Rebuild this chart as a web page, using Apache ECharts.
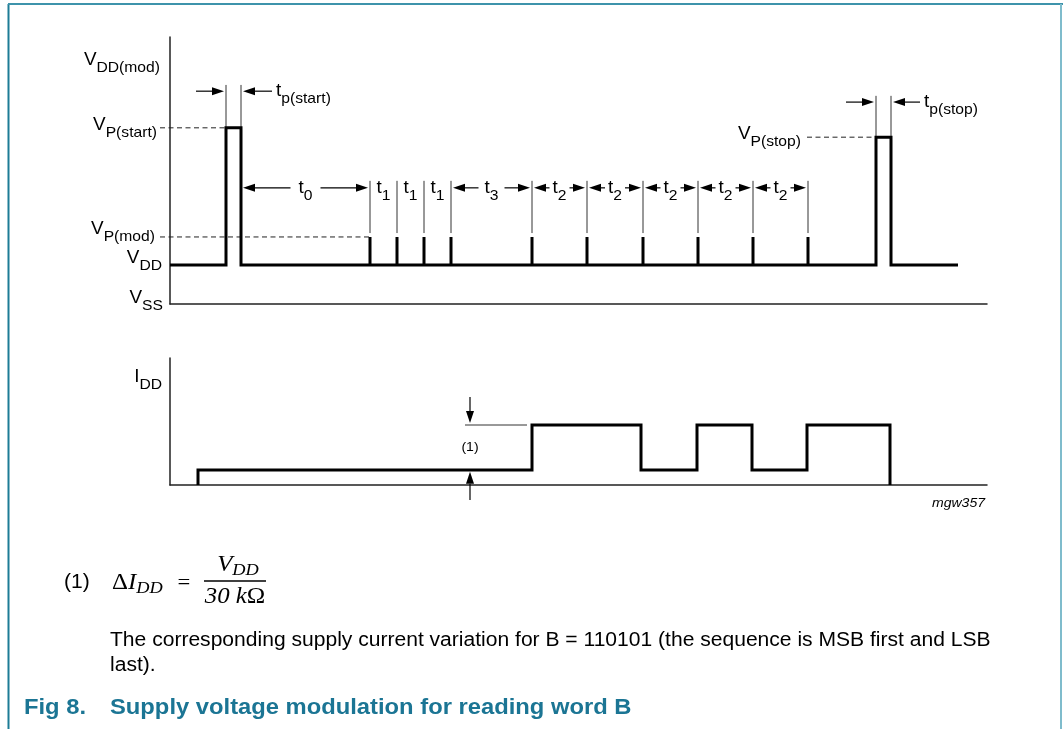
<!DOCTYPE html>
<html><head><meta charset="utf-8">
<script src="https://cdn.jsdelivr.net/npm/echarts@6/dist/echarts.min.js"></script>
<style>html,body{margin:0;padding:0;background:#fff}#c{width:1063px;height:729px}</style>
</head><body><div id="c"></div>
<script>
// ---------------- data (time: arbitrary units from the vertical axis) ----------------
const levelNames  = ['VSS', 'VDD', 'VP(mod)', 'VP(stop)', 'VP(start)'];
const levelValues = [0, 1, 1.72, 4.28, 4.52];
const startPulse  = [56, 71];                 // rise, fall
const modPulses   = [200, 227, 254, 281, 362, 417, 473, 528, 583, 638];
const stopPulse   = [706, 721];               // rise, fall
const traceEnd    = 788;
const intervalLabels = ['t0', 't1', 't1', 't1', 't3', 't2', 't2', 't2', 't2', 't2'];
const intervalArrows = [1, 0, 0, 0, 1, 1, 1, 1, 1, 1];
const iddEdgeTimes = [28, 362, 471, 527, 582, 637, 720];
const iddLevels    = [1, 4, 1, 4, 1, 4, 0];
const iddDelta     = [1, 4];                  // low / high level of the ΔIDD annotation

// ---------------- styling helpers ----------------
const SX = 1.08;
const FONT = '"Liberation Sans", Arial, Helvetica, sans-serif';
const SERIF = '"Liberation Serif", "Times New Roman", serif';
const lv = n => levelValues[levelNames.indexOf(n)];
const VSS = lv('VSS'), VDD = lv('VDD'), VPM = lv('VP(mod)'), VPSTOP = lv('VP(stop)'), VPSTART = lv('VP(start)');

// top trace
const topTrace = [[0, VDD], [startPulse[0], VDD], [startPulse[0], VPSTART], [startPulse[1], VPSTART], [startPulse[1], VDD]];
modPulses.forEach(p => { topTrace.push([p, VDD], [p, VPM], [p, VDD]); });
topTrace.push([stopPulse[0], VDD], [stopPulse[0], VPSTOP], [stopPulse[1], VPSTOP], [stopPulse[1], VDD], [traceEnd, VDD]);

// bottom trace
const botTrace = [];
let prev = 0;
iddEdgeTimes.forEach((t, i) => { botTrace.push([t, prev], [t, iddLevels[i]]); prev = iddLevels[i]; });

// annotation items
const topItems = [];
const botItems = [];
// dashed level lines
topItems.push({k: 'dash', a: [-10, VPSTART], b: [startPulse[0], VPSTART]});
topItems.push({k: 'dash', a: [-10, VPM], b: [modPulses[0], VPM]});
topItems.push({k: 'dash', a: [modPulses[modPulses.length - 1] - 1, VPSTOP], b: [stopPulse[0], VPSTOP]});
// extension lines
const yStartDim = 5.46, yStopDim = 5.18, yIntDim = 2.98;
startPulse.forEach(x => topItems.push({k: 'seg', a: [x, VPSTART], b: [x, 5.62]}));
stopPulse.forEach(x => topItems.push({k: 'seg', a: [x, VPSTOP], b: [x, 5.34]}));
modPulses.forEach(x => topItems.push({k: 'seg', a: [x, 1.82], b: [x, 3.16]}));
// pulse width arrows
topItems.push({k: 'arrow', a: [startPulse[0] - 30, yStartDim], b: [startPulse[0] - 2, yStartDim]});
topItems.push({k: 'arrow', a: [startPulse[1] + 31, yStartDim], b: [startPulse[1] + 2, yStartDim]});
topItems.push({k: 'arrow', a: [stopPulse[0] - 30, yStopDim], b: [stopPulse[0] - 2, yStopDim]});
topItems.push({k: 'arrow', a: [stopPulse[1] + 29, yStopDim], b: [stopPulse[1] + 2, yStopDim]});
topItems.push({k: 'sub', p: [startPulse[1] + 35, yStartDim], t: 'tp(start)', al: 'left'});
topItems.push({k: 'sub', p: [stopPulse[1] + 33, yStopDim], t: 'tp(stop)', al: 'left'});
// interval dimensions
const bounds = [startPulse[1]].concat(modPulses);
const halfGap = {t0: 15, t3: 13, t2: 10, t1: 0};
intervalLabels.forEach((lab, i) => {
  const a = bounds[i], b = bounds[i + 1], c = (a + b) / 2;
  if (intervalArrows[i]) {
    topItems.push({k: 'arrow', a: [c - halfGap[lab], yIntDim], b: [a + 2, yIntDim]});
    topItems.push({k: 'arrow', a: [c + halfGap[lab], yIntDim], b: [b - 2, yIntDim]});
  }
  topItems.push({k: 'sub', p: [c, yIntDim], t: lab, al: 'center'});
});
// level labels
topItems.push({k: 'sub', p: [-10, 6.26], t: 'VDD(mod)', al: 'right'});
topItems.push({k: 'sub', p: [-13, VPSTART + 0.07], t: 'VP(start)', al: 'right'});
topItems.push({k: 'sub', p: [-15, VPM + 0.2], t: 'VP(mod)', al: 'right'});
topItems.push({k: 'sub', p: [-8, VDD + 0.18], t: 'VDD', al: 'right'});
topItems.push({k: 'sub', p: [-7, VSS + 0.15], t: 'VSS', al: 'right'});
topItems.push({k: 'sub', p: [modPulses[modPulses.length - 1] - 7, VPSTOP + 0.08], t: 'VP(stop)', al: 'right'});

// bottom annotation
const dx = 300;
botItems.push({k: 'seg', a: [dx - 5, iddDelta[1]], b: [iddEdgeTimes[1] - 5, iddDelta[1]]});
botItems.push({k: 'arrow', a: [dx, 5.87], b: [dx, iddDelta[1] + 0.13]});
botItems.push({k: 'arrow', a: [dx, -1.0], b: [dx, iddDelta[0] - 0.12]});
botItems.push({k: 'plain', p: [dx, 2.53], t: '(1)', al: 'center', font: '13px ' + FONT});
botItems.push({k: 'sub', p: [-8, 7.2], t: 'IDD', al: 'right'});
botItems.push({k: 'plain', p: [815, -1.2], t: 'mgw357', al: 'right', font: 'italic 13px ' + FONT});

const subRich = {
  m: {fontSize: 17.5, fontFamily: FONT},
  s: {fontSize: 14.5, fontFamily: FONT, padding: [16, 0, 0, 0]}
};

function makeRender(items) {
  return function (params, api) {
    const it = items[params.dataIndex];
    if (it.k === 'seg' || it.k === 'dash') {
      const p1 = api.coord(it.a), p2 = api.coord(it.b);
      return {type: 'line', shape: {x1: p1[0], y1: p1[1], x2: p2[0], y2: p2[1]},
        style: {stroke: it.k === 'dash' ? '#222' : '#333', lineWidth: 1, lineDash: it.k === 'dash' ? [5, 3.5] : null}};
    }
    if (it.k === 'arrow') {
      const p1 = api.coord(it.a), p2 = api.coord(it.b);
      let ux = p2[0] - p1[0], uy = p2[1] - p1[1];
      const len = Math.hypot(ux, uy); ux /= len; uy /= len;
      const L = 12, W = 4;
      const bx = p2[0] - ux * L, by = p2[1] - uy * L;
      return {type: 'group', children: [
        {type: 'line', shape: {x1: p1[0], y1: p1[1], x2: bx, y2: by}, style: {stroke: '#000', lineWidth: 1.2}},
        {type: 'polygon', shape: {points: [[p2[0], p2[1]], [bx - uy * W, by + ux * W], [bx + uy * W, by - ux * W]]}, style: {fill: '#000'}}
      ]};
    }
    const p = api.coord(it.p);
    if (it.k === 'sub') {
      return {type: 'text', x: p[0], y: p[1], scaleX: SX,
        style: {text: '{m|' + it.t[0] + '}{s|' + it.t.slice(1) + '}', rich: subRich, fill: '#000',
          align: it.al, textAlign: it.al, verticalAlign: 'middle', textVerticalAlign: 'middle'}};
    }
    return {type: 'text', x: p[0], y: p[1], scaleX: SX,
      style: {text: it.t, font: it.font, fill: '#000', align: it.al, textAlign: it.al,
        verticalAlign: 'middle', textVerticalAlign: 'middle'}};
  };
}
function itemData(items) {
  return items.map(it => it.p ? it.p : it.a);
}

const axisStyle = {show: true, onZero: false, lineStyle: {color: '#222', width: 1.5}};
function ax(type, grid, min, max) {
  return {type: 'value', gridIndex: grid, min: min, max: max, axisLine: axisStyle,
    axisTick: {show: false}, axisLabel: {show: false}, splitLine: {show: false}};
}

const chart = echarts.init(document.getElementById('c'), null, {renderer: 'canvas'});
chart.setOption({
  animation: false,
  backgroundColor: '#fff',
  grid: [
    {left: 170, top: 37, width: 817, height: 267},
    {left: 170, top: 358, width: 817, height: 127}
  ],
  xAxis: [ax('x', 0, 0, 817), ax('x', 1, 0, 817)],
  yAxis: [ax('y', 0, 0, 6.85), ax('y', 1, 0, 127 / 15)],
  series: [
    {type: 'line', xAxisIndex: 0, yAxisIndex: 0, data: topTrace, showSymbol: false, symbol: 'none', clip: false,
      lineStyle: {color: '#000', width: 3, join: 'miter', cap: 'butt'}, silent: true},
    {type: 'line', xAxisIndex: 1, yAxisIndex: 1, data: botTrace, showSymbol: false, symbol: 'none', clip: false,
      lineStyle: {color: '#000', width: 3, join: 'miter', cap: 'butt'}, silent: true},
    {type: 'custom', xAxisIndex: 0, yAxisIndex: 0, data: itemData(topItems), renderItem: makeRender(topItems), silent: true, clip: false},
    {type: 'custom', xAxisIndex: 1, yAxisIndex: 1, data: itemData(botItems), renderItem: makeRender(botItems), silent: true, clip: false}
  ],
  graphic: {elements: [
    {type: 'line', shape: {x1: 8.5, y1: 4, x2: 8.5, y2: 729}, style: {stroke: '#1d7c96', lineWidth: 2}},
    {type: 'line', shape: {x1: 8, y1: 4, x2: 1063, y2: 4}, style: {stroke: '#3d93ab', lineWidth: 2}},
    {type: 'line', shape: {x1: 1061, y1: 4, x2: 1061, y2: 729}, style: {stroke: '#7fbccc', lineWidth: 2}},
    {type: 'text', x: 64, y: 583, scaleX: SX, style: {text: '(1)', font: '19.5px ' + FONT, fill: '#000', verticalAlign: 'middle', textVerticalAlign: 'middle'}},
    {type: 'text', x: 112, y: 583, scaleX: SX, style: {text: '{d|Δ}{i|I}{s|DD}', fill: '#000', verticalAlign: 'middle', textVerticalAlign: 'middle',
      rich: {d: {fontSize: 23, fontFamily: SERIF}, i: {fontSize: 23, fontFamily: SERIF, fontStyle: 'italic'},
             s: {fontSize: 17, fontFamily: SERIF, fontStyle: 'italic', padding: [12, 0, 0, 0]}}}},
    {type: 'text', x: 184, y: 583, scaleX: SX, style: {text: '=', font: '21px ' + SERIF, fill: '#000', align: 'center', textAlign: 'center', verticalAlign: 'middle', textVerticalAlign: 'middle'}},
    {type: 'text', x: 238, y: 565, scaleX: SX, style: {text: '{i|V}{s|DD}', fill: '#000', align: 'center', textAlign: 'center', verticalAlign: 'middle', textVerticalAlign: 'middle',
      rich: {i: {fontSize: 23, fontFamily: SERIF, fontStyle: 'italic'}, s: {fontSize: 17, fontFamily: SERIF, fontStyle: 'italic', padding: [12, 0, 0, 0]}}}},
    {type: 'line', shape: {x1: 204, y1: 581, x2: 266, y2: 581}, style: {stroke: '#000', lineWidth: 1.5}},
    {type: 'text', x: 235, y: 597, scaleX: SX, style: {text: '{i|30 k}{o|Ω}', fill: '#000', align: 'center', textAlign: 'center', verticalAlign: 'middle', textVerticalAlign: 'middle',
      rich: {i: {fontSize: 23, fontFamily: SERIF, fontStyle: 'italic'}, o: {fontSize: 23, fontFamily: SERIF}}}},
    {type: 'text', x: 110, y: 641, scaleX: SX, style: {text: 'The corresponding supply current variation for B = 110101 (the sequence is MSB first and LSB', font: '19.5px ' + FONT, fill: '#000', verticalAlign: 'middle', textVerticalAlign: 'middle'}},
    {type: 'text', x: 110, y: 666, scaleX: SX, style: {text: 'last).', font: '19.5px ' + FONT, fill: '#000', verticalAlign: 'middle', textVerticalAlign: 'middle'}},
    {type: 'text', x: 24, y: 708, scaleX: SX, style: {text: 'Fig 8.', font: 'bold 22px ' + FONT, fill: '#1b7594', verticalAlign: 'middle', textVerticalAlign: 'middle'}},
    {type: 'text', x: 110, y: 708, scaleX: SX, style: {text: 'Supply voltage modulation for reading word B', font: 'bold 22px ' + FONT, fill: '#1b7594', verticalAlign: 'middle', textVerticalAlign: 'middle'}}
  ]}
});
</script>
</body></html>
